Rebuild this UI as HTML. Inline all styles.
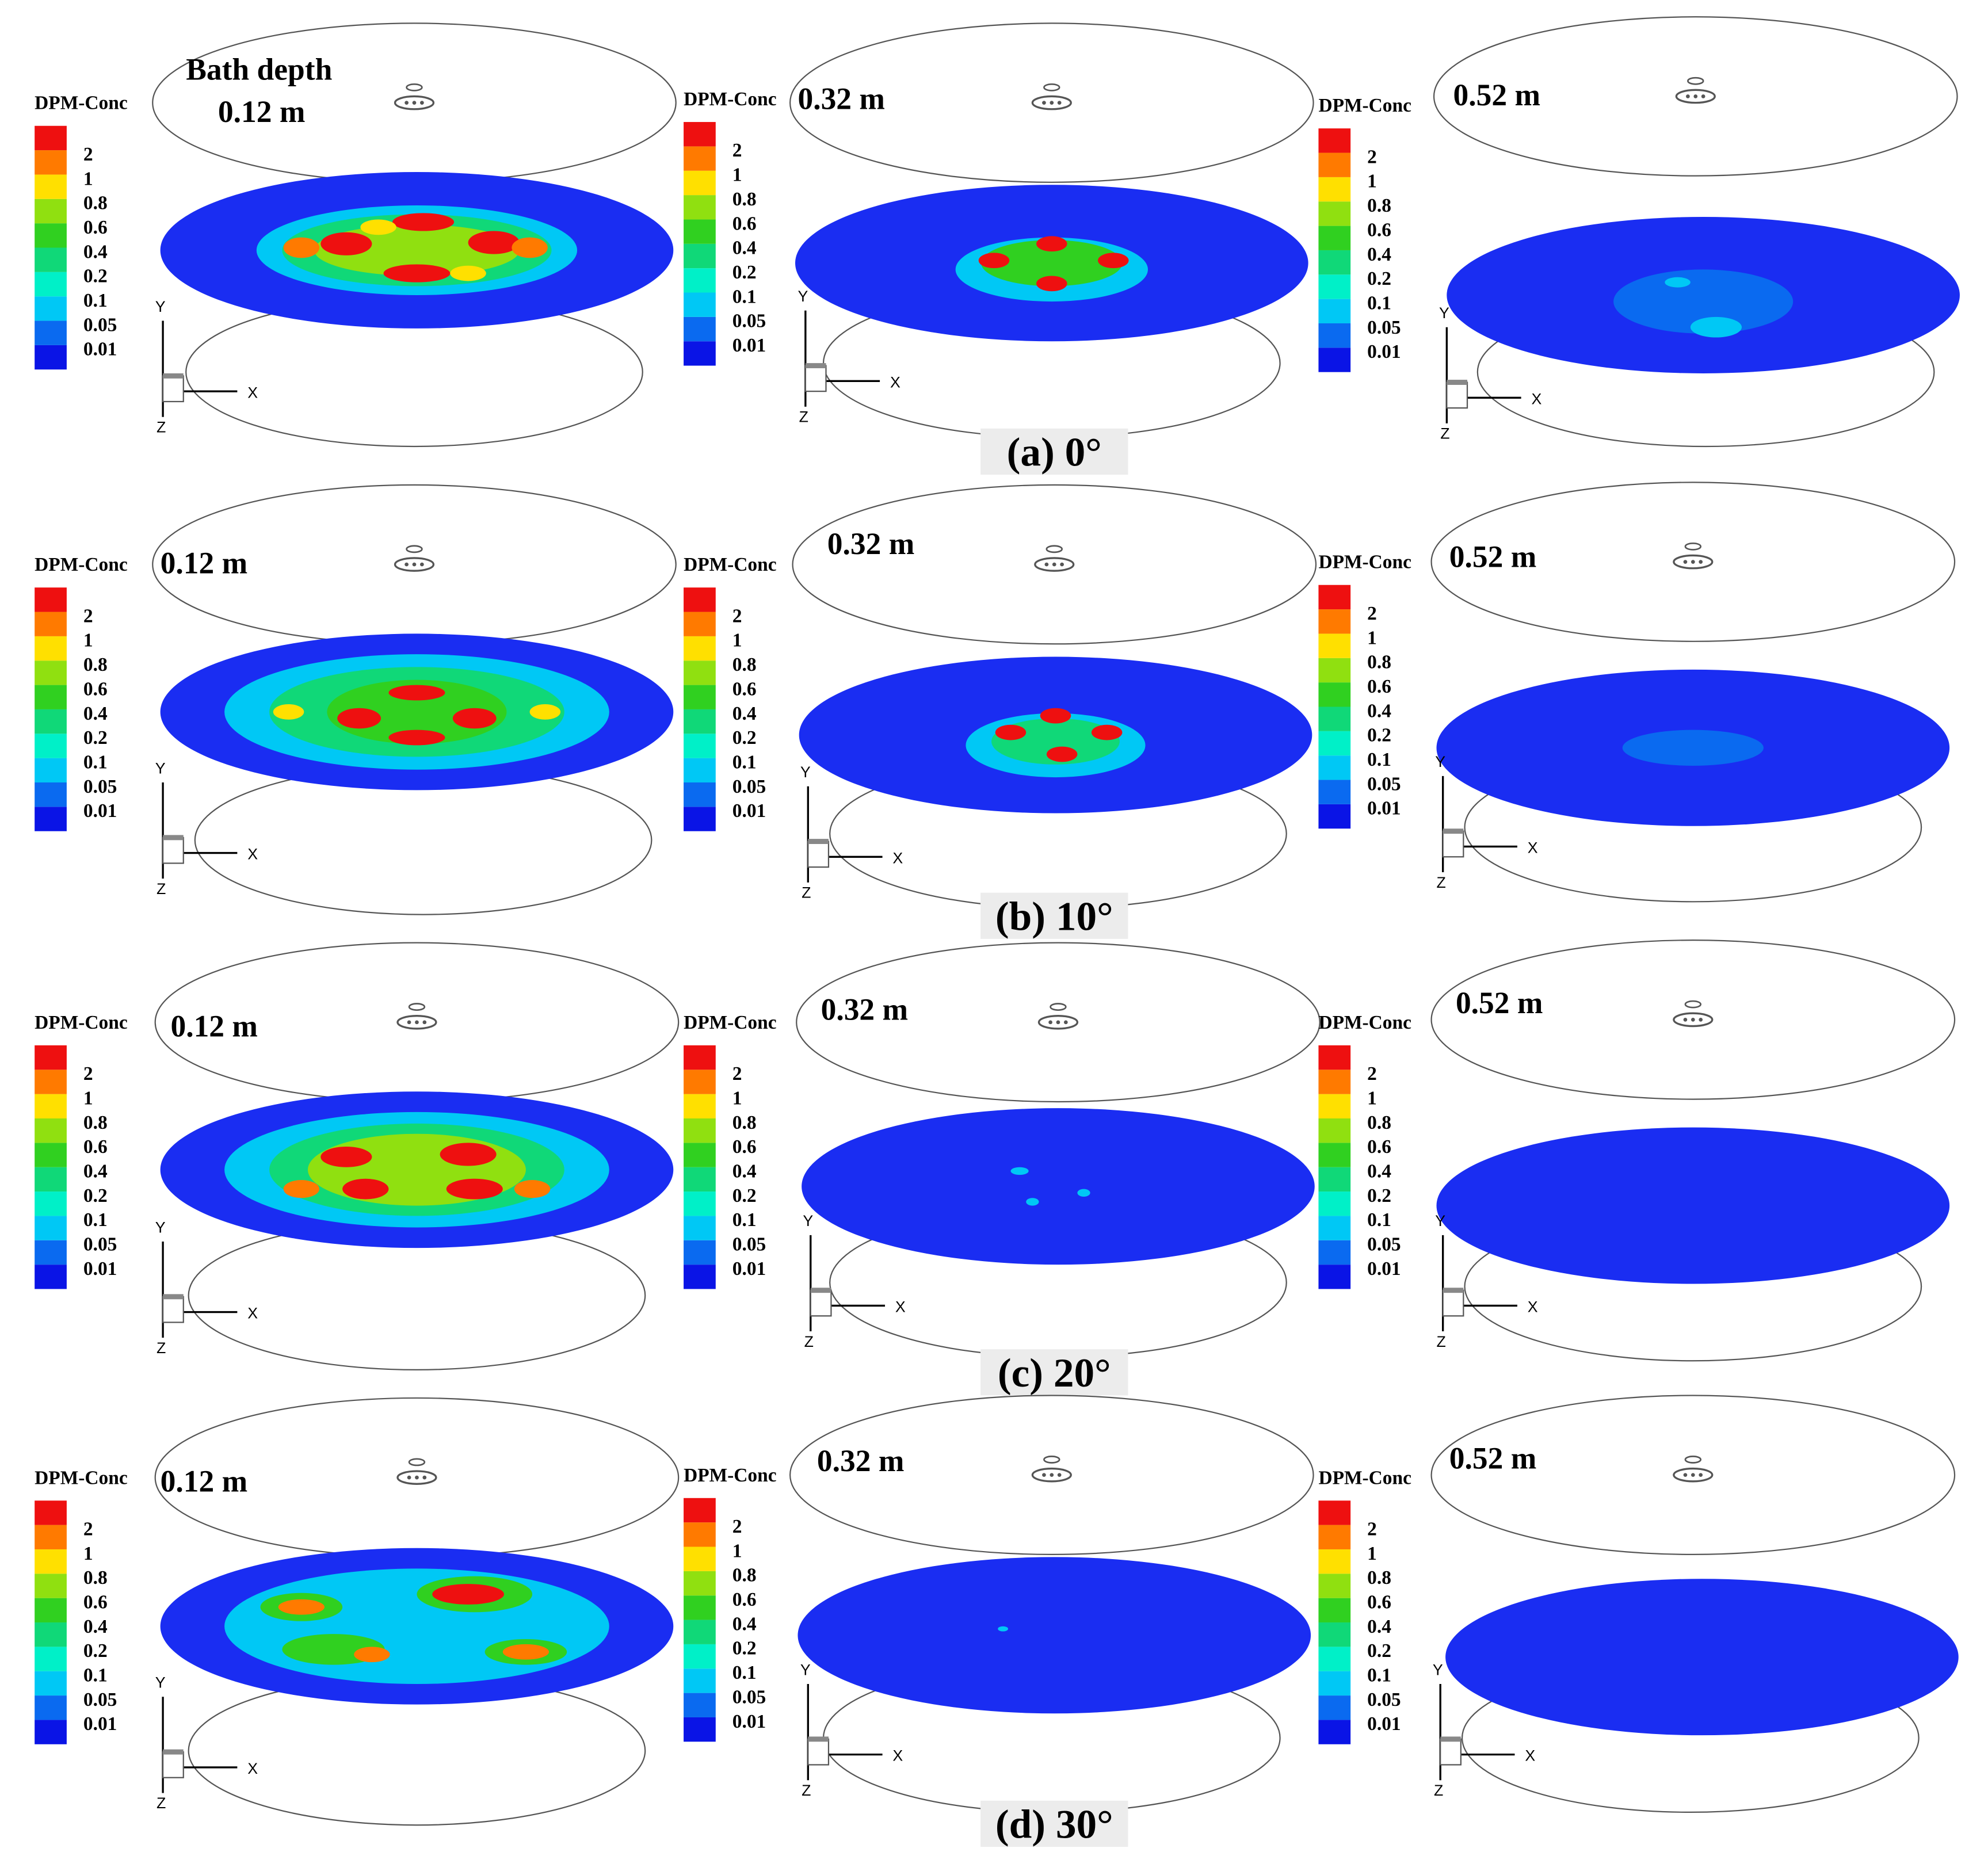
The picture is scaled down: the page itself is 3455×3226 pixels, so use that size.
<!DOCTYPE html>
<html><head><meta charset="utf-8">
<style>
html,body{margin:0;padding:0;background:#fff;}
svg{display:block;}
text{font-family:"Liberation Serif",serif;font-weight:bold;fill:#000;}
</style></head>
<body>
<svg id="fig" width="3455" height="3226" viewBox="0 0 1550 1447" xmlns="http://www.w3.org/2000/svg"></svg>
<script>
const levels=["0.01","0.05","0.1","0.2","0.4","0.6","0.8","1","2"];
const levelColors=["#0a14e6","#0a6af0","#00c8f5","#00f0c8","#10d878","#30d020","#90e010","#ffe000","#ff7a00","#ee1010"];
const captions=["(a) 0°","(b) 10°","(c) 20°","(d) 30°"];
const depths=["0.12 m","0.32 m","0.52 m"];
const diskCenters=[[[325,195],[820,205],[1328,230]],[[325,555],[823,573],[1320,583]],[[325,912],[825,925],[1320,940]],[[325,1268],[822,1275],[1327,1292]]];
const topCenters=[[[323,80],[820,80],[1322,75]],[[323,440],[822,440],[1320,438]],[[325,797],[825,797],[1320,795]],[[325,1152],[820,1150],[1320,1150]]];
const botCenters=[[[323,290],[820,283],[1330,290]],[[330,655],[825,650],[1320,645]],[[325,1010],[825,1000],[1320,1003]],[[325,1365],[820,1355],[1318,1355]]];
const axisOrigins=[[[127,305],[628,297],[1128,310]],[[127,665],[630,668],[1125,660]],[[127,1023],[632,1018],[1125,1018]],[[127,1378],[630,1368],[1123,1368]]];
const labelPos=[[[170,95],[622,85],[1133,82]],[[125,447],[645,432],[1130,442]],[[133,808],[640,795],[1135,790]],[[125,1163],[637,1147],[1130,1145]]];
const barTops=[[98,95,100],[458,458,456],[815,815,815],[1170,1168,1170]];
const barX=[27,533,1028];
const captionY=[360,722,1078,1430];
// hot spots: [dx, dy, rx, ry, level index]
const spots=[
 [[[0,0,125,35,2],[0,0,105,28,4],[0,0,80,20,6],[-55,-5,20,9,9],[60,-6,20,9,9],[5,-22,24,7,9],[0,18,26,7,9],[-90,-2,14,8,8],[88,-2,14,8,8],[-30,-18,14,6,7],[40,18,14,6,7]],
  [[0,5,75,25,2],[0,0,55,18,5],[-45,-2,12,6,9],[48,-2,12,6,9],[0,-15,12,6,9],[0,16,12,6,9]],
  [[0,5,70,25,1],[10,25,20,8,2],[-20,-10,10,4,2]]],
 [[[0,0,150,45,2],[0,0,115,35,4],[0,0,70,25,5],[-45,5,17,8,9],[45,5,17,8,9],[0,-15,22,6,9],[0,20,22,6,9],[-100,0,12,6,7],[100,0,12,6,7]],
  [[0,8,70,25,2],[0,5,50,18,4],[-35,-2,12,6,9],[40,-2,12,6,9],[0,-15,12,6,9],[5,15,12,6,9]],
  [[0,0,55,14,1]]],
 [[[0,0,150,45,2],[0,0,115,36,4],[0,0,85,28,6],[-55,-10,20,8,9],[40,-12,22,9,9],[-40,15,18,8,9],[45,15,22,8,9],[-90,15,14,7,8],[90,15,14,7,8]],
  [[-30,-12,7,3,2],[20,5,5,3,2],[-20,12,5,3,2]],
  []],
 [[[0,0,150,45,2],[-90,-15,32,11,5],[-90,-15,18,6,8],[45,-25,45,14,5],[40,-25,28,8,9],[85,20,32,10,5],[85,20,18,6,8],[-65,18,40,12,5],[-35,22,14,6,8]],
  [[-40,-5,4,2,2]],
  []]
];
const svg=document.getElementById('fig');
const NS='http://www.w3.org/2000/svg';
function mk(tag,attrs,parent){const e=document.createElementNS(NS,tag);for(const k in attrs)e.setAttribute(k,attrs[k]);(parent||svg).appendChild(e);return e;}
for(let r=0;r<4;r++){
 for(let c=0;c<3;c++){
  const g=mk('g',{});
  
  
  const [cx,cy]=diskCenters[r][c];
  const [tx0,ty0]=topCenters[r][c];
  const [bx0,by0]=botCenters[r][c];
  const top=mk('ellipse',{cx:tx0,cy:ty0,rx:204,ry:62,fill:'none',stroke:'#555','stroke-width':1},g);
  
  
  const bot=mk('ellipse',{cx:bx0,cy:by0,rx:178,ry:58,fill:'none',stroke:'#555','stroke-width':1},g);
  
  
  // nozzle icon
  mk('ellipse',{cx:tx0,cy:ty0,rx:15,ry:5,fill:'none',stroke:'#555','stroke-width':1.5},g);
  for(const d of [-6,0,6]) mk('circle',{cx:tx0+d,cy:ty0,r:1.5,fill:'#555'},g);
  mk('ellipse',{cx:tx0,cy:ty0-12,rx:6,ry:2.5,fill:'none',stroke:'#555','stroke-width':1.2},g);
  const disk=mk('ellipse',{cx:cx,cy:cy,rx:200,ry:61,fill:'#1a2df2'},g);
  
  
  for(const s of spots[r][c]){
   const sp=mk('ellipse',{cx:cx+s[0],cy:cy+s[1],rx:s[2],ry:s[3],fill:levelColors[s[4]]},g);
   
   
  }
  // axes triad
  const [ax,ay]=axisOrigins[r][c];
  mk('line',{x1:ax,y1:ay-55,x2:ax,y2:ay+20,stroke:'#000','stroke-width':1.5},g);
  mk('line',{x1:ax,y1:ay,x2:ax+58,y2:ay,stroke:'#000','stroke-width':1.5},g);
  mk('rect',{x:ax,y:ay-12,width:16,height:20,fill:'#fff',stroke:'#555'},g);
  mk('rect',{x:ax,y:ay-14,width:16,height:4,fill:'#888'},g);
  const ty=mk('text',{x:ax-6,y:ay-62,'font-size':12,style:'font-family:Liberation Sans;font-weight:normal'},g);ty.textContent='Y';
  const tx=mk('text',{x:ax+66,y:ay+5,'font-size':12,style:'font-family:Liberation Sans;font-weight:normal'},g);tx.textContent='X';
  const tz=mk('text',{x:ax-5,y:ay+32,'font-size':12,style:'font-family:Liberation Sans;font-weight:normal'},g);tz.textContent='Z';
  // colorbar
  const bx=barX[c], by=barTops[r][c], bh=19;
  const title=mk('text',{x:bx,y:by-13,'font-size':15},g);title.textContent='DPM-Conc';
  
  
  for(let i=0;i<10;i++){
   const rc=mk('rect',{x:bx,y:by+(9-i)*bh,width:25,height:bh,fill:levelColors[i]},g);
   
   
  }
  for(let i=0;i<levels.length;i++){
   const t=mk('text',{x:bx+38,y:by+(9-i)*bh+8,'font-size':15},g);t.textContent=levels[i];
   
   
  }
  const [dx,dy]=labelPos[r][c];
  if(r==0&&c==0){
   const bd=mk('text',{x:145,y:62,'font-size':24},g);bd.textContent='Bath depth';
   
   
  }
  const dl=mk('text',{x:dx,y:dy,'font-size':24},g);dl.textContent=depths[c];
  
  
 }
 const cw=115;
 const cb=mk('rect',{x:822-cw/2,y:captionY[r]-26,width:cw,height:36,fill:'#ececec'});
 
 
 const ct=mk('text',{x:822,y:captionY[r]+3,'font-size':32,'text-anchor':'middle'});
 ct.textContent=captions[r];
 
 
}
</script>
</body></html>
